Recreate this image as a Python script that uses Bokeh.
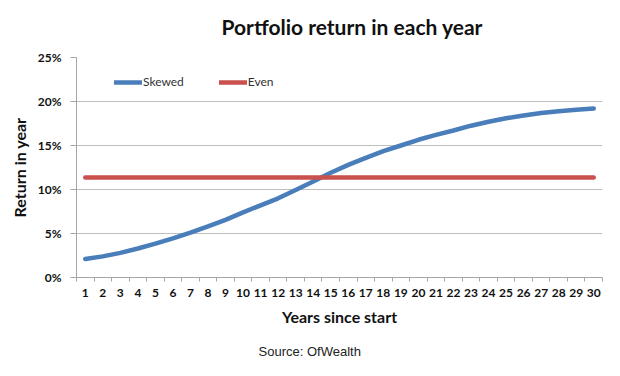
from bokeh.plotting import figure
from bokeh.models import (ColumnDataSource, FixedTicker, PrintfTickFormatter, Title,
                          Legend, LegendItem, Range1d)
from bokeh.embed import file_html
from bokeh.resources import INLINE

# ---- data ----
years = list(range(1, 31))
skewed = [2.1, 2.4, 2.8, 3.3, 3.85, 4.45, 5.1, 5.8, 6.55, 7.4,
          8.2, 9.0, 9.95, 10.9, 11.9, 12.8, 13.6, 14.35, 15.0, 15.65,
          16.2, 16.7, 17.25, 17.7, 18.1, 18.4, 18.7, 18.9, 19.05, 19.2]
even = [11.35] * 30
y_ticks = [0, 5, 10, 15, 20, 25]

title_text = "Portfolio return in each year"
x_label = "Years since start"
y_label = "Return in year"
source_text = "Source: OfWealth"

BLUE = "#4A7EBB"
RED = "#C9504D"
FONT = "Lato"

src = ColumnDataSource(dict(x=years, skewed=skewed, even=even))

p = figure(width=620, height=376, output_backend="svg", toolbar_location=None,
           x_range=Range1d(0.5, 30.5), y_range=Range1d(0, 25),
           min_border_left=76, min_border_right=18, min_border_top=57,
           min_border_bottom=99)
p.outline_line_color = None
p.background_fill_color = "white"
p.border_fill_color = "white"

r1 = p.line("x", "skewed", source=src, line_color=BLUE, line_width=4.5, line_cap="round")
r2 = p.line("x", "even", source=src, line_color=RED, line_width=4.5, line_cap="round")

# axes
xa = p.xaxis[0]
xa.ticker = FixedTicker(ticks=years, minor_ticks=[v + 0.5 for v in range(0, 31)])
xa.major_tick_line_color = None
xa.minor_tick_line_color = "#A6A6A6"
xa.minor_tick_out = 4
xa.minor_tick_in = 0
xa.axis_line_color = "#A6A6A6"
xa.major_label_text_font = FONT
xa.major_label_text_font_style = "bold"
xa.major_label_text_font_size = "12px"
xa.major_label_text_color = "#111111"
xa.major_label_standoff = 5
xa.axis_label = x_label
xa.axis_label_text_font = FONT
xa.axis_label_text_font_style = "bold"
xa.axis_label_text_font_size = "16px"
xa.axis_label_text_color = "#111111"
xa.axis_label_standoff = 7

ya = p.yaxis[0]
ya.ticker = FixedTicker(ticks=y_ticks)
ya.formatter = PrintfTickFormatter(format="%d%%")
ya.major_tick_line_color = "#A6A6A6"
ya.major_tick_out = 6
ya.major_tick_in = 0
ya.minor_tick_line_color = None
ya.axis_line_color = "#A6A6A6"
ya.major_label_text_font = FONT
ya.major_label_text_font_style = "bold"
ya.major_label_text_font_size = "12px"
ya.major_label_text_color = "#111111"
ya.major_label_standoff = 9
ya.axis_label = y_label
ya.axis_label_text_font = FONT
ya.axis_label_text_font_style = "bold"
ya.axis_label_text_font_size = "16px"
ya.axis_label_text_color = "#111111"
ya.axis_label_standoff = 6

p.xgrid.grid_line_color = None
p.ygrid.ticker = FixedTicker(ticks=y_ticks)
p.ygrid.grid_line_color = "#BFBFBF"
p.ygrid.grid_line_width = 1

# title and source
p.add_layout(Title(text=source_text, align="left", text_font="Liberation Sans",
                   text_font_style="normal", text_font_size="13px",
                   text_color="#222222", offset=182, standoff=27), "below")
# spacer between frame and title
p.add_layout(Title(text=" ", text_font_size="1px", standoff=16), "above")
p.add_layout(Title(text=title_text, align="left", text_font=FONT,
                   text_font_style="bold", text_font_size="21px",
                   text_color="#111111", offset=145, standoff=0), "above")

legend = Legend(items=[LegendItem(label="Skewed", renderers=[r1]),
                       LegendItem(label="Even", renderers=[r2])],
                orientation="horizontal", location=(38, 188),
                border_line_color=None, background_fill_alpha=0,
                padding=0, margin=0, spacing=35, glyph_width=28,
                glyph_height=12, label_standoff=1,
                label_text_font=FONT, label_text_font_size="12px",
                label_text_color="#333333")
p.add_layout(legend, "center")

open("out.html", "w").write(file_html(p, INLINE))
